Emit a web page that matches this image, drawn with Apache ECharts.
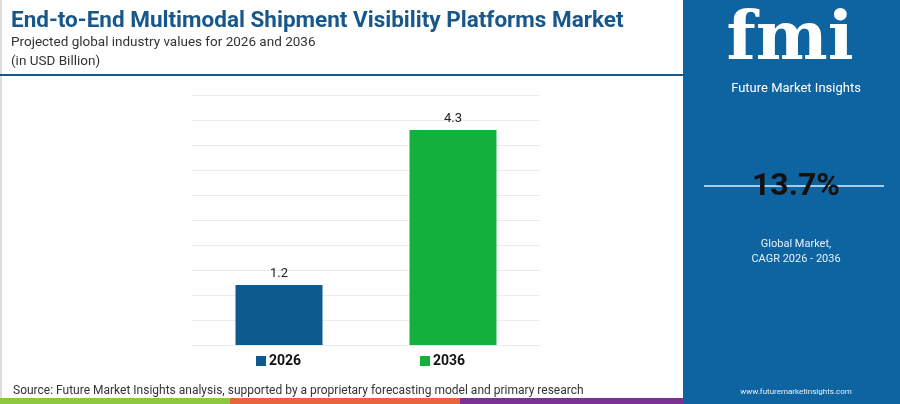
<!DOCTYPE html>
<html>
<head>
<meta charset="utf-8">
<script src="https://cdn.jsdelivr.net/npm/echarts@6/dist/echarts.min.js"></script>
<style>
html,body{margin:0;padding:0;background:#fff;}
#chart{width:900px;height:404px;}
</style>
</head>
<body>
<div id="chart"></div>
<script>
// NOTE - 数据
const years = ['2026', '2036']
const values = [1.2, 4.3]
const barColors = ['#0d5a8f', '#14b03c']

const myChart = echarts.init(document.querySelector('#chart'))
const font = 'Roboto, "Open Sans", sans-serif'
const option = {
    backgroundColor: '#fff',
    animation: false,
    title: [
        { text: 'End-to-End Multimodal Shipment Visibility Platforms Market', left: 6, top: 5,
          textStyle: { color: '#17578a', fontSize: 22.5, fontWeight: 'bold', fontFamily: font } },
        { text: 'Projected global industry values for 2026 and 2036\n(in USD Billion)', left: 6, top: 28,
          textStyle: { color: '#333', fontSize: 13.5, fontWeight: 'normal', fontFamily: font, lineHeight: 19 } },
        { text: 'Source: Future Market Insights analysis, supported by a proprietary forecasting model and primary research', left: 8, top: 380,
          textStyle: { color: '#333', fontSize: 12, fontWeight: 'normal', fontFamily: font } },
        { text: '13.7%', left: 791, top: 166, textAlign: 'center',
          textStyle: { color: '#111', fontSize: 32, fontWeight: 'bold', fontFamily: font } },
        { text: 'Global Market,\nCAGR 2026 - 2036', left: 791, top: 232, textAlign: 'center',
          textStyle: { color: '#e8f0f8', fontSize: 11, fontWeight: 'normal', fontFamily: font, lineHeight: 15 } },
        { text: 'www.futuremarketinsights.com', left: 791, top: 383, textAlign: 'center',
          textStyle: { color: '#e8f0f8', fontSize: 8, fontWeight: 'normal', fontFamily: font } },
        { text: 'fmi', left: 785, top: 2, textAlign: 'center',
          textStyle: { color: '#fff', fontSize: 68, fontWeight: 'bold', fontFamily: 'DejaVu Serif' } },
        { text: 'Future Market Insights', left: 791, top: 77, textAlign: 'center',
          textStyle: { color: '#fff', fontSize: 13, fontWeight: 'normal', fontFamily: font } }
    ],
    graphic: [
        { type: 'rect', z: -1, shape: { x: 683, y: 0, width: 217, height: 404 }, style: { fill: '#0e64a0' } },
        { type: 'rect', z: 10, shape: { x: 0, y: 74, width: 683, height: 2 }, style: { fill: '#17578a' } },
        { type: 'rect', shape: { x: 0, y: 0, width: 2, height: 398 }, style: { fill: '#ddd' } },
        { type: 'line', z: 1, shape: { x1: 704, y1: 186, x2: 884, y2: 186 }, style: { stroke: '#a9cbe6', lineWidth: 2 } },
        { type: 'rect', shape: { x: 0, y: 398, width: 230, height: 6 }, style: { fill: '#8dc63f' } },
        { type: 'rect', shape: { x: 230, y: 398, width: 230, height: 6 }, style: { fill: '#e8643c' } },
        { type: 'rect', shape: { x: 460, y: 398, width: 223, height: 6 }, style: { fill: '#7b3294' } },
        { type: 'rect', shape: { x: 256, y: 356, width: 10, height: 10 }, style: { fill: barColors[0] } },
        { type: 'text', style: { x: 269, y: 354, text: years[0], fill: '#111', font: 'bold 14px ' + font } },
        { type: 'rect', shape: { x: 420, y: 356, width: 10, height: 10 }, style: { fill: barColors[1] } },
        { type: 'text', style: { x: 433, y: 354, text: years[1], fill: '#111', font: 'bold 14px ' + font } }
    ],
    grid: { left: 192, right: 360, top: 95, bottom: 59 },
    xAxis: {
        type: 'category',
        data: years,
        axisLine: { show: false },
        axisTick: { show: false },
        axisLabel: { show: false }
    },
    yAxis: {
        type: 'value',
        min: 0,
        max: 5,
        interval: 0.5,
        axisLabel: { show: false },
        splitLine: { lineStyle: { color: '#ebebeb' } }
    },
    series: [
        {
            type: 'bar',
            data: values.map((v, i) => ({ value: v, itemStyle: { color: barColors[i] } })),
            barWidth: '50%',
            label: { show: true, position: 'top', color: '#222', fontSize: 13, fontFamily: font }
        }
    ]
}
myChart.setOption(option)
</script>
</body>
</html>
